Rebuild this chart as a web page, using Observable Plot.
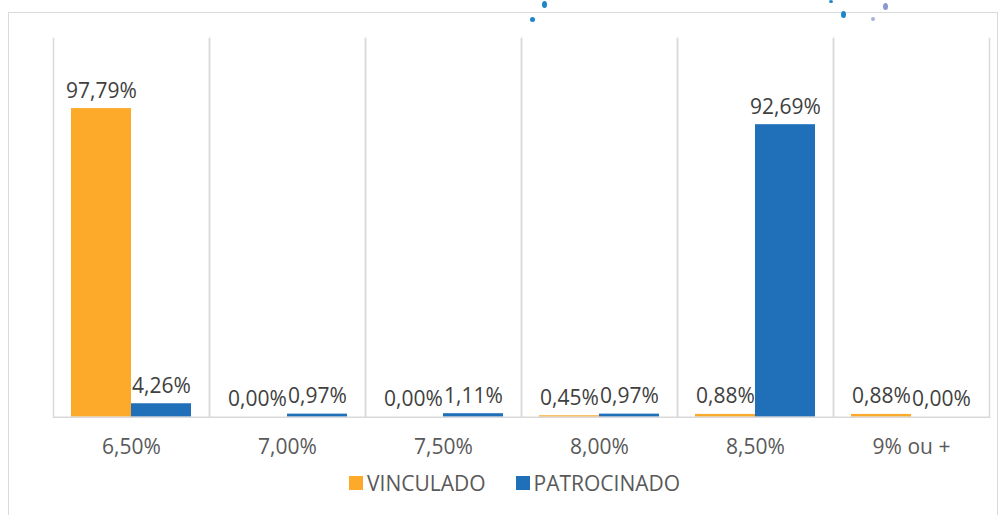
<!DOCTYPE html>
<html><head><meta charset="utf-8">
<script src="https://cdn.jsdelivr.net/npm/d3@7"></script>
<script src="https://cdn.jsdelivr.net/npm/@observablehq/plot@0.6"></script>
<style>
body{margin:0;background:#fff;font-family:"Open Sans",Lato,sans-serif;}
#wrap{position:relative;width:1000px;height:515px;overflow:hidden;background:#fff;}
#border{position:absolute;left:8px;top:12px;width:990px;height:540px;border:1.5px solid #d9d9d9;box-sizing:border-box;}
#chart{position:absolute;left:0;top:0;}
#legend{position:absolute;left:349px;top:469px;display:flex;align-items:center;font-size:21px;color:#595959;}
#legend .sw{width:14px;height:14px;display:inline-block;margin-right:4px;}
#legend .item{display:flex;align-items:center;margin-right:30px;}
.dot{position:absolute;border-radius:50%;}
</style></head>
<body>
<div id="wrap">
  <div id="border"></div>
  <div class="dot" style="left:530px;top:17px;width:5px;height:5px;background:#1d86c8"></div>
  <div class="dot" style="left:542px;top:1px;width:5px;height:7px;background:#1d86c8"></div>
  <div class="dot" style="left:841px;top:11px;width:5px;height:7px;background:#1d86c8"></div>
  <div class="dot" style="left:829px;top:0px;width:4px;height:3px;background:#1d86c8"></div>
  <div class="dot" style="left:871px;top:17px;width:4px;height:4px;background:#aab0d8"></div>
  <div class="dot" style="left:883px;top:3px;width:5px;height:7px;background:#8c98d0"></div>
  <div id="chart"></div>
  <div id="legend"></div>
</div>
<script>
const categories = ["6,50%","7,00%","7,50%","8,00%","8,50%","9% ou +"];
const seriesNames = ["VINCULADO","PATROCINADO"];
const vinculado = [97.79, 0.00, 0.00, 0.45, 0.88, 0.88];
const patrocinado = [4.26, 0.97, 1.11, 0.97, 92.69, 0.00];
const seriesColors = ["#FDA92A", "#1F70B9"];

const data = [];
categories.forEach((c, i) => {
  data.push({cat: c, series: seriesNames[0], value: vinculado[i]});
  data.push({cat: c, series: seriesNames[1], value: patrocinado[i]});
});
const fmt = v => d3.format(".2f")(v).replace(".", ",") + "%";

const plot = Plot.plot({
  width: 1000,
  height: 465,
  marginLeft: 51,
  marginRight: 10,
  marginTop: 38,
  marginBottom: 48.3,
  style: {fontFamily: "'Open Sans', Lato, sans-serif", background: "transparent", overflow: "visible"},
  fx: {domain: categories, padding: 0, label: null},
  x: {domain: seriesNames, paddingInner: 0, paddingOuter: 0.28, axis: null},
  y: {domain: [0, 120], axis: null},
  color: {domain: seriesNames, range: seriesColors},
  marks: [
    Plot.frame({anchor: "left", stroke: "#d9d9d9", strokeWidth: 1.5}),
    Plot.frame({anchor: "right", stroke: "#d9d9d9", strokeWidth: 1.5}),
    Plot.barY(data, {fx: "cat", x: "series", y: "value", fill: "series"}),
    Plot.ruleY([0], {stroke: "#d9d9d9", strokeWidth: 1.5}),
    Plot.text(data, {fx: "cat", x: "series", y: "value", text: d => fmt(d.value), lineAnchor: "bottom", dy: -11, fontSize: 21, fill: "#404040"}),
    Plot.axisFx({anchor: "bottom", tickSize: 0, tickPadding: 22, fontSize: 21, color: "#595959", label: null})
  ]
});
document.getElementById("chart").appendChild(plot);

const legend = document.getElementById("legend");
seriesNames.forEach((s, i) => {
  const item = document.createElement("div");
  item.className = "item";
  const sw = document.createElement("span");
  sw.className = "sw";
  sw.style.background = seriesColors[i];
  item.appendChild(sw);
  item.appendChild(document.createTextNode(s));
  legend.appendChild(item);
});
</script>
</body></html>
